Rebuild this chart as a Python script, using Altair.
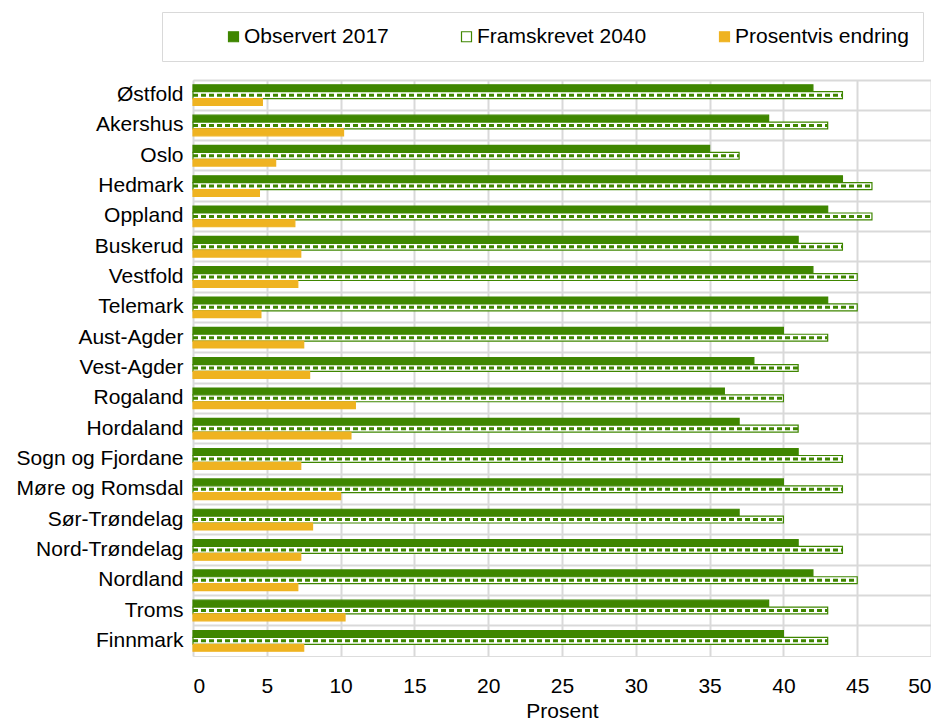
import altair as alt
import pandas as pd

fylker = ["Østfold", "Akershus", "Oslo", "Hedmark", "Oppland", "Buskerud",
          "Vestfold", "Telemark", "Aust-Agder", "Vest-Agder", "Rogaland",
          "Hordaland", "Sogn og Fjordane", "Møre og Romsdal", "Sør-Trøndelag",
          "Nord-Trøndelag", "Nordland", "Troms", "Finnmark"]
observert_2017 = [42, 39, 35, 44, 43, 41, 42, 43, 40, 38, 36, 37, 41, 40, 37, 41, 42, 39, 40]
framskrevet_2040 = [44, 43, 37, 46, 46, 44, 45, 45, 43, 41, 40, 41, 44, 44, 40, 44, 45, 43, 43]
prosentvis_endring = [4.7, 10.2, 5.6, 4.5, 6.9, 7.3, 7.1, 4.6, 7.5, 7.9, 11.0, 10.7,
                      7.3, 10.0, 8.1, 7.3, 7.1, 10.3, 7.5]
serier = ["Observert 2017", "Framskrevet 2040", "Prosentvis endring"]

GREEN = "#3f8600"
ORANGE = "#efb321"
GRID = "#d9d9d9"
FONT = "Liberation Sans"

rows = []
for i, f in enumerate(fylker):
    rows.append({"fylke": f, "serie": serier[0], "verdi": observert_2017[i]})
    rows.append({"fylke": f, "serie": serier[1], "verdi": framskrevet_2040[i]})
    rows.append({"fylke": f, "serie": serier[2], "verdi": prosentvis_endring[i]})
df = pd.DataFrame(rows)

y_enc = alt.Y("fylke:N", sort=fylker,
              scale=alt.Scale(paddingInner=0, paddingOuter=0),
              axis=alt.Axis(title=None, domain=False, ticks=False, labelPadding=10,
                            labelFontSize=21, labelColor="#000000", labelFont=FONT,
                            labelLimit=400, grid=True, bandPosition=0,
                            gridColor=GRID, gridWidth=2))
yoff_enc = alt.YOffset("serie:N", sort=serier,
                       scale=alt.Scale(domain=serier, paddingInner=0, paddingOuter=0.7))
x_axis = alt.Axis(values=list(range(0, 51, 5)), title="Prosent", domain=False, ticks=False,
                  labelPadding=19, labelFontSize=21, labelColor="#000000", labelFont=FONT,
                  titleFontSize=21, titleFont=FONT, titleColor="#000000",
                  titleFontWeight="normal", titlePadding=4,
                  grid=True, gridColor=GRID, gridWidth=2)
x_scale = alt.Scale(domain=[0, 50], nice=False)

legend = alt.Legend(title=None,
                    orient="none", legendX=-31, legendY=-68,
                    direction="horizontal", symbolType="square", symbolSize=100,
                    symbolStrokeWidth=1.2,
                    labelFontSize=21, labelFont=FONT, labelColor="#000000",
                    labelOffset=0, padding=14, columnPadding=20, symbolOffset=47,
                    strokeColor=GRID, labelLimit=400)

base = alt.Chart(df)

bars = base.mark_bar(strokeWidth=1.2).encode(
    x=alt.X("verdi:Q", scale=x_scale, axis=x_axis),
    y=y_enc,
    yOffset=yoff_enc,
    fill=alt.Fill("serie:N", sort=serier,
                  scale=alt.Scale(domain=serier, range=[GREEN, "#ffffff", ORANGE]),
                  legend=legend),
    stroke=alt.Stroke("serie:N", sort=serier,
                      scale=alt.Scale(domain=serier, range=[GREEN, GREEN, ORANGE]),
                      legend=legend),
)

hatch = base.transform_filter(
    alt.datum.serie == serier[1]
).transform_calculate(start="0").mark_rule(
    color=GREEN, strokeWidth=3, strokeDash=[5, 3], strokeCap="butt"
).encode(
    x=alt.X("start:Q", scale=x_scale, axis=x_axis),
    x2="verdi:Q",
    y=y_enc,
    yOffset=yoff_enc,
)

chart = alt.layer(bars, hatch).properties(
    width=738, height=576,
    padding={"left": 8, "top": 3, "right": 0, "bottom": 0},
).configure_view(
    stroke=GRID, strokeWidth=2
).configure(font=FONT)

chart.save("out.html", embed_options={"renderer": "svg", "actions": False})
